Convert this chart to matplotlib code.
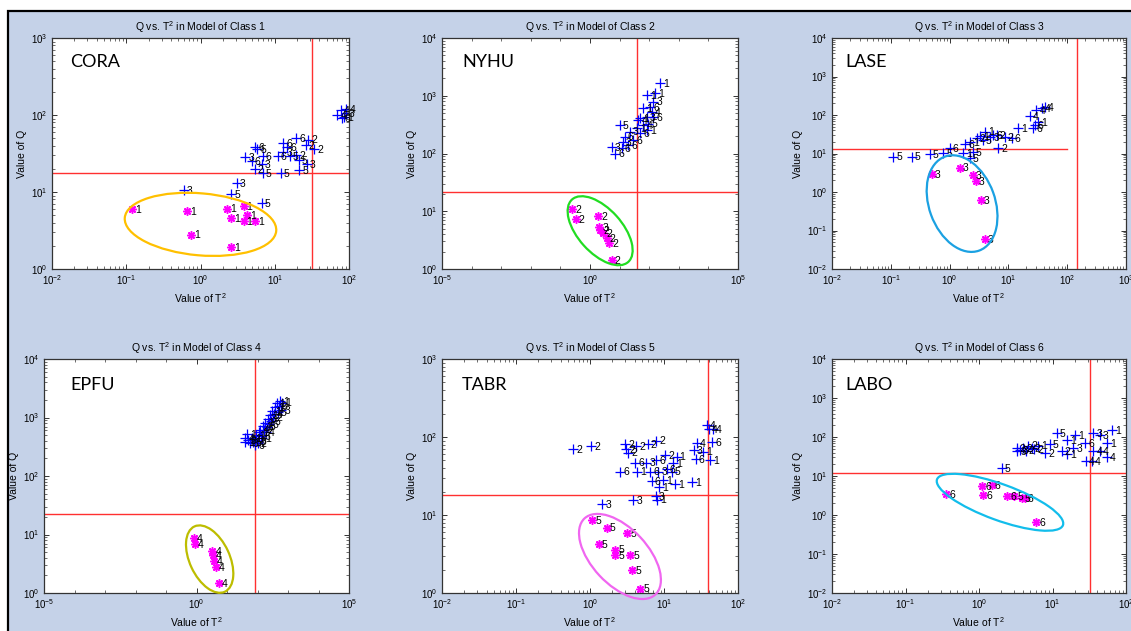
#!/usr/bin/env python3
"""Q vs. T^2 plots for the six per-class PCA models (one panel per class)."""

import matplotlib

matplotlib.use("Agg")
import matplotlib.pyplot as plt
from matplotlib.patches import Ellipse, Rectangle
from matplotlib.ticker import FixedLocator, NullFormatter
from matplotlib.transforms import ScaledTranslation

plt.rcParams["font.family"] = ["Liberation Sans", "DejaVu Sans"]
plt.rcParams["mathtext.fontset"] = "custom"
plt.rcParams["mathtext.rm"] = "Liberation Sans"
plt.rcParams["mathtext.it"] = "Liberation Sans:italic"

# ---- class 1 model (CORA) ----
CORA_T2 = [70, 78, 85, 90, 80, 92, 5.5, 5.8, 4.0, 4.9, 6.9, 11, 6.7, 5.4, 6.9, 12,
           13, 14.6, 19.3, 16, 19.3, 21, 21.4, 27, 28, 34, 26, 13, 3.1, 2.6, 6.7, 0.6]
CORA_Q = [100, 115, 95, 105, 92, 120, 38, 36, 28.7, 25.5, 29.4, 29.4, 23, 19.7, 17.5, 17.8,
          43.6, 38, 50, 29.4, 30, 26, 19.3, 23, 48, 36, 41, 33, 13, 9.4, 7.1, 10.6]
CORA_ID = [4, 4, 1, 3, 6, 4, 6, 5, 3, 6, 6, 6, 3, 2, 5, 5,
           6, 6, 6, 5, 2, 5, 5, 3, 2, 2, 2, 3, 3, 5, 5, 3]
CORA_OWN_T2 = [0.121, 0.66, 0.74, 2.3, 2.6, 2.6, 3.8, 4.2, 3.8, 5.5]
CORA_OWN_Q = [6.0, 5.7, 2.8, 6.1, 4.6, 1.93, 6.5, 5.0, 4.2, 4.2]
CORA_OWN_ID = [1, 1, 1, 1, 1, 1, 1, 1, 1, 1]

# ---- class 2 model (NYHU) ----
NYHU_T2 = [232, 157, 86, 138, 107, 63, 120, 82, 49, 138, 93, 43, 38, 10, 22, 15,
           13, 29, 49, 19.5, 5.4, 7.0, 12, 63, 82]
NYHU_Q = [1680, 1100, 1030, 790, 646, 605, 530, 434, 405, 434, 330, 380, 274, 310, 240, 196,
          160, 170, 225, 140, 128, 100, 123, 310, 256]
NYHU_ID = [1, 1, 1, 3, 6, 1, 4, 3, 1, 6, 5, 4, 1, 5, 3, 6,
           3, 6, 6, 6, 3, 6, 6, 4, 1]
NYHU_OWN_T2 = [0.25, 0.33, 1.9, 2.06, 2.2, 2.8, 3.7, 4.4, 5.4]
NYHU_OWN_Q = [10.8, 7.3, 8.3, 5.4, 4.7, 4.25, 3.4, 2.85, 1.43]
NYHU_OWN_ID = [2, 2, 2, 3, 2, 2, 2, 2, 2]

# ---- class 3 model (LASE) ----
LASE_T2 = [0.11, 0.226, 0.46, 0.78, 1.0, 1.83, 1.72, 2.2, 2.5, 2.2, 2.9, 4.0, 3.7, 4.9,
           6.3, 6.7, 8.7, 11.4, 14.8, 26.6, 23.3, 30, 37, 32, 42, 28, 5.5, 3.3]
LASE_Q = [8.3, 8.3, 9.5, 10.5, 13.6, 17.3, 10.1, 7.5, 11.1, 20, 24.8, 37, 22, 27,
          30, 13.6, 27, 25.7, 45, 45, 96, 135, 149, 67, 164, 55, 30, 28]
LASE_ID = [5, 5, 5, 5, 6, 6, 1, 5, 5, 1, 2, 1, 5, 3,
           2, 2, 2, 6, 1, 6, 4, 4, 4, 1, 4, 6, 6, 1]
LASE_OWN_T2 = [0.50, 1.5, 2.5, 2.8, 3.4, 4.0]
LASE_OWN_Q = [2.9, 4.3, 2.8, 1.93, 0.62, 0.06]
LASE_OWN_ID = [3, 3, 3, 3, 3, 3]

# ---- class 4 model (EPFU) ----
EPFU_T2 = [38, 40, 45, 55, 48, 65, 70, 80, 90, 100, 110, 125, 130, 150, 165, 180, 200,
           220, 250, 280, 300, 350, 380, 420, 500, 550, 600, 650, 460, 330, 240, 190,
           140, 100, 85]
EPFU_Q = [380, 450, 520, 360, 410, 450, 380, 420, 500, 400, 560, 620, 480, 720, 600, 820, 700,
          960, 1100, 880, 1300, 1150, 1500, 1750, 1550, 1900, 1350, 1800, 1250, 1000, 780, 560,
          450, 360, 340]
EPFU_ID = [1, 4, 1, 6, 3, 1, 5, 6, 1, 3, 1, 4, 6, 1, 2, 1, 5,
           3, 1, 6, 1, 4, 1, 1, 6, 1, 3, 1, 5, 2, 6, 4,
           1, 2, 6]
EPFU_OWN_T2 = [0.81, 0.87, 3.3, 3.5, 3.75, 4.2, 5.5]
EPFU_OWN_Q = [8.8, 6.8, 5.2, 4.4, 3.5, 2.8, 1.48]
EPFU_OWN_ID = [4, 4, 4, 4, 4, 4, 4]

# ---- class 5 model (TABR) ----
TABR_T2 = [0.59, 1.03, 3.0, 3.1, 3.3, 4.2, 6.0, 7.8, 4.06, 5.8, 7.9, 10.3, 14.8, 13.4,
           2.54, 4.35, 6.5, 8.4, 10.9, 12.7, 6.8, 9.8, 8.6, 14.1, 23.7, 7.8, 8.1, 1.47,
           3.85, 28, 25.4, 27, 34, 42, 45, 38, 40, 46]
TABR_Q = [70, 77, 81, 70, 63, 77, 81, 90, 47, 47, 51, 59, 56, 46,
          36, 36, 36, 36, 38.5, 36, 27, 28, 23, 25, 26.7, 17.5, 15.8, 13.7,
          15.5, 83, 68, 52, 65, 50, 87, 143, 126, 126]
TABR_ID = [2, 2, 2, 2, 2, 2, 2, 2, 6, 3, 6, 2, 1, 1,
           6, 1, 6, 3, 6, 5, 6, 1, 1, 1, 1, 3, 1, 3,
           3, 4, 3, 6, 1, 1, 6, 4, 4, 4]
TABR_OWN_T2 = [1.07, 1.68, 3.2, 1.32, 2.2, 2.2, 3.5, 3.7, 4.8]
TABR_OWN_Q = [8.6, 6.9, 5.9, 4.2, 3.6, 3.1, 3.1, 1.96, 1.14]
TABR_OWN_ID = [5, 5, 5, 5, 5, 5, 5, 5, 5]

# ---- class 6 model (LABO) ----
LABO_T2 = [2.03, 3.25, 3.3, 4.0, 5.2, 4.7, 6.4, 7.9, 9.25, 11.4, 13.3, 15.6, 15.9, 20.3,
           19.2, 27.7, 36, 44, 64, 55, 36, 44, 28.6, 55, 34, 3.6, 4.3, 5.6]
LABO_Q = [16.3, 51.5, 44, 51.5, 51.5, 60, 60, 38, 65, 125, 44, 84, 36, 113,
          53, 69, 125, 113, 151, 69, 44, 44, 24.3, 31, 24.3, 47, 45, 48]
LABO_ID = [5, 2, 3, 2, 2, 2, 1, 2, 5, 5, 2, 1, 1, 1,
           3, 6, 3, 3, 1, 1, 4, 4, 4, 4, 4, 3, 2, 2]
LABO_OWN_T2 = [0.36, 1.1, 1.14, 1.5, 2.4, 3.0, 3.8, 4.2, 6.0]
LABO_OWN_Q = [3.4, 5.6, 3.25, 5.9, 3.06, 3.06, 2.77, 2.7, 0.65]
LABO_OWN_ID = [6, 6, 6, 6, 6, 5, 5, 6, 6]

# control limits per model (T^2 limit, Q limit)
T2_LIMIT = [31.4, 37.8, 147, 81, 39, 32.4]
Q_LIMIT = [17.7, 21.5, 13.1, 22.3, 17.9, 12.2]

NAMES = ["CORA", "NYHU", "LASE", "EPFU", "TABR", "LABO"]

# ---- figure layout (pixel boxes: left, top, right, bottom) ----
W, H = 1131, 631
BOXES = [(52, 38, 349, 269), (442, 38, 738, 269), (832, 38, 1126, 269),
         (44, 359, 349, 593), (442, 359, 738, 593), (832, 359, 1126, 593)]
XLIMS = [(1e-2, 1e2), (1e-5, 1e5), (1e-2, 1e3), (1e-5, 1e5), (1e-2, 1e2), (1e-2, 1e2)]
YLIMS = [(1, 1e3), (1, 1e4), (1e-2, 1e4), (1, 1e4), (1, 1e3), (1e-2, 1e4)]
QLINE_END = [None, None, 1e2, None, None, None]
NAME_Y = [0.896, 0.896, 0.896, 0.889, 0.889, 0.889]
NAME_X = [0.06, 0.068, 0.044, 0.085, 0.068, 0.044]

# class-region ellipses: centre (T2, Q), size in inches, angle, colour
ELLIPSES = [
    (1.0, 3.8, 1.52, 0.62, -5, "#FFC000"),
    (2.2, 4.6, 0.84, 0.44, -48, "#22DD22"),
    (1.63, 0.50, 1.00, 0.66, -70, "#1BA1E2"),
    (2.7, 3.8, 0.72, 0.40, -65, "#BDBD00"),
    (2.54, 2.94, 1.04, 0.56, -47, "#F066F0"),
    (1.93, 2.12, 1.34, 0.36, -20, "#12BDEB"),
]

OTHERS = [(CORA_T2, CORA_Q, CORA_ID), (NYHU_T2, NYHU_Q, NYHU_ID),
          (LASE_T2, LASE_Q, LASE_ID), (EPFU_T2, EPFU_Q, EPFU_ID),
          (TABR_T2, TABR_Q, TABR_ID), (LABO_T2, LABO_Q, LABO_ID)]
OWN = [(CORA_OWN_T2, CORA_OWN_Q, CORA_OWN_ID), (NYHU_OWN_T2, NYHU_OWN_Q, NYHU_OWN_ID),
       (LASE_OWN_T2, LASE_OWN_Q, LASE_OWN_ID), (EPFU_OWN_T2, EPFU_OWN_Q, EPFU_OWN_ID),
       (TABR_OWN_T2, TABR_OWN_Q, TABR_OWN_ID), (LABO_OWN_T2, LABO_OWN_Q, LABO_OWN_ID)]


def label_points(ax, xs, ys, ids):
    for x, y, k in zip(xs, ys, ids):
        ax.annotate(str(k), (x, y), xytext=(2.2, -0.6), textcoords="offset points",
                    fontsize=7.5, ha="left", va="center", color="black")


fig = plt.figure(figsize=(W / 100, H / 100), dpi=100, facecolor="white")
fig.add_artist(Rectangle((8 / W, -0.1), 1.2, (H - 11) / H + 0.1,
                         transform=fig.transFigure, facecolor="#C5D2E8",
                         edgecolor="black", linewidth=1.6, zorder=-5))

for i in range(6):
    l, t, r, b = BOXES[i]
    ax = fig.add_axes([l / W, (H - b) / H, (r - l) / W, (b - t) / H])
    ax.set_xscale("log")
    ax.set_yscale("log")
    ax.set_xlim(*XLIMS[i])
    ax.set_ylim(*YLIMS[i])

    if XLIMS[i][0] == 1e-5:
        ax.xaxis.set_major_locator(FixedLocator([1e-5, 1e0, 1e5]))
        ax.xaxis.set_minor_locator(FixedLocator([10.0 ** e for e in range(-5, 6)]))
        ax.xaxis.set_minor_formatter(NullFormatter())

    # limit lines
    ax.axvline(T2_LIMIT[i], color="#FF3030", linewidth=1.0, zorder=1)
    if QLINE_END[i] is None:
        ax.axhline(Q_LIMIT[i], color="#FF3030", linewidth=1.0, zorder=1)
    else:
        ax.plot([XLIMS[i][0], QLINE_END[i]], [Q_LIMIT[i], Q_LIMIT[i]],
                color="#FF3030", linewidth=1.0, zorder=1)

    xs, ys, ids = OTHERS[i]
    ax.plot(xs, ys, "+", color="#0000FF", ms=6.5, mew=0.9, ls="none", zorder=2)
    ox, oy, oid = OWN[i]
    ax.plot(ox, oy, marker=(8, 2, 0), color="#FF00FF", ms=6, mew=1.1, ls="none", zorder=2)
    label_points(ax, xs, ys, ids)
    label_points(ax, ox, oy, oid)

    cx, cy, ew, eh, ang, col = ELLIPSES[i]
    ell = Ellipse((0, 0), ew, eh, angle=ang, facecolor="none", edgecolor=col,
                  linewidth=1.6, clip_on=False, zorder=3,
                  transform=fig.dpi_scale_trans + ScaledTranslation(cx, cy, ax.transData))
    ax.add_patch(ell)

    ax.text(NAME_X[i], NAME_Y[i], NAMES[i], transform=ax.transAxes, fontsize=13,
            family=["Lato", "DejaVu Sans"], ha="left", va="center")

    ax.set_title(f"Q vs. T$^2$ in Model of Class {i + 1}", fontsize=7.5, pad=5)
    ax.set_xlabel("Value of T$^2$", fontsize=7.5, labelpad=3)
    ax.set_ylabel("Value of Q", fontsize=7.5, labelpad=3)
    ax.tick_params(which="both", direction="in", top=True, right=True,
                   labelsize=7, pad=3, color="#333333")
    ax.tick_params(which="major", length=3.5, width=0.7)
    ax.tick_params(which="minor", length=2, width=0.5)
    for s in ax.spines.values():
        s.set_color("#333333")
        s.set_linewidth(0.9)

fig.savefig("out.png", dpi=100, facecolor=fig.get_facecolor())
